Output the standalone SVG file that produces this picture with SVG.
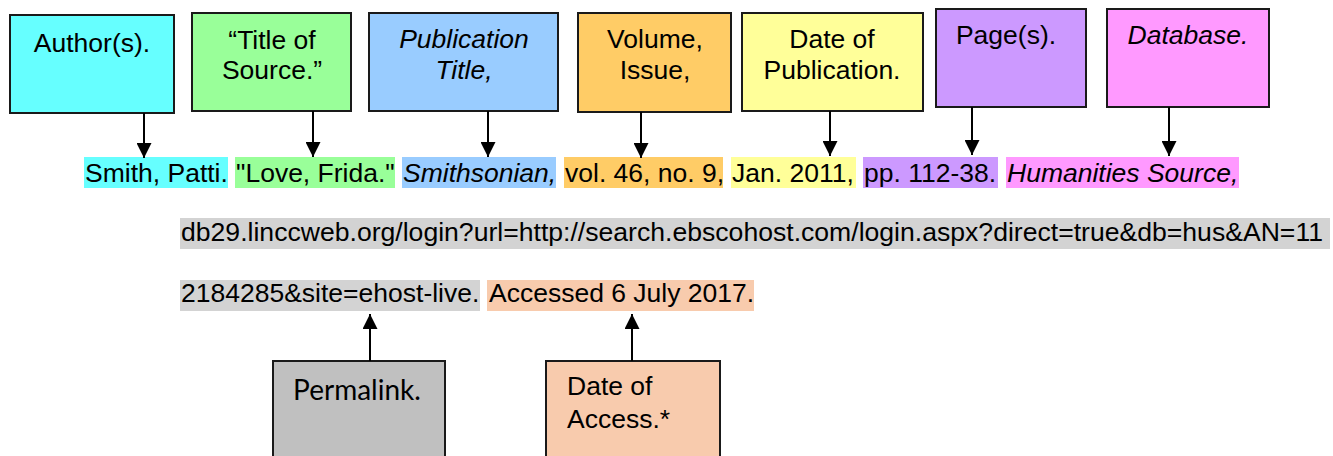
<svg xmlns="http://www.w3.org/2000/svg" width="1333" height="456" viewBox="0 0 1333 456">
<style>
.box{stroke:#1a1a1a;stroke-width:2}
.t{font-family:"Liberation Sans",Arial,sans-serif;font-size:26.5px;fill:#000}
.c{text-anchor:middle}
.i{font-style:italic}
.cal{font-family:Lato,"Open Sans",sans-serif;font-size:28px;fill:#000}
.conn line{stroke:#000;stroke-width:2}
</style>
<defs>
<marker id="ah" markerUnits="userSpaceOnUse" markerWidth="16" markerHeight="15" refX="15" refY="7.5" orient="auto">
<path d="M0,0 L15,7.5 L0,15 Z" fill="#000"/>
</marker>
</defs>
<rect width="1333" height="456" fill="#fff"/>

<g id="citation">
<rect x="84" y="157" width="144" height="31" fill="#66FFFF"/>
<rect x="235" y="157" width="160" height="31" fill="#99FF99"/>
<rect x="402" y="157" width="154" height="31" fill="#99CCFF"/>
<rect x="564" y="157" width="159" height="31" fill="#FFCC66"/>
<rect x="731" y="157" width="125" height="31" fill="#FFFF99"/>
<rect x="863" y="157" width="135" height="31" fill="#CC99FF"/>
<rect x="1006" y="157" width="233" height="31" fill="#FF99FF"/>
<rect x="180" y="218" width="1150" height="31" fill="#D3D3D3"/>
<rect x="180" y="280" width="300" height="31" fill="#D3D3D3"/>
<rect x="487" y="280" width="267" height="31" fill="#F8CBAD"/>
<text class="t" x="85" y="182">Smith, Patti.</text>
<text class="t" x="236" y="182">"Love, Frida."</text>
<text class="t i" x="403" y="182">Smithsonian,</text>
<text class="t" x="565" y="182">vol. 46, no. 9,</text>
<text class="t" x="732" y="182">Jan. 2011,</text>
<text class="t" x="864" y="182">pp. 112-38.</text>
<text class="t i" x="1007" y="182">Humanities Source,</text>
<text class="t" x="181" y="241" textLength="1142" lengthAdjust="spacingAndGlyphs">db29.linccweb.org/login?url=http://search.ebscohost.com/login.aspx?direct=true&amp;db=hus&amp;AN=11</text>
<text class="t" x="181" y="302">2184285&amp;site=ehost-live.</text>
<text class="t" x="489" y="302">Accessed 6 July 2017.</text>
</g>

<g id="author">
<rect class="box" x="10" y="15" width="164" height="98" fill="#66FFFF"/>
<text class="t c" x="92" y="52">Author(s).</text>
</g>
<g id="title">
<rect class="box" x="192" y="13" width="159" height="98" fill="#99FF99"/>
<text class="t c" x="272" y="49">“Title of</text>
<text class="t c" x="272" y="79">Source.”</text>
</g>
<g id="pubtitle">
<rect class="box" x="369" y="13" width="189" height="98" fill="#99CCFF"/>
<text class="t c i" x="464" y="48">Publication</text>
<text class="t c i" x="464" y="79">Title,</text>
</g>
<g id="volume">
<rect class="box" x="578" y="13" width="153" height="99" fill="#FFCC66"/>
<text class="t c" x="655" y="48">Volume,</text>
<text class="t c" x="655" y="79">Issue,</text>
</g>
<g id="date">
<rect class="box" x="742" y="13" width="181" height="98" fill="#FFFF99"/>
<text class="t c" x="832" y="48">Date of</text>
<text class="t c" x="832" y="79">Publication.</text>
</g>
<g id="pages">
<rect class="box" x="936" y="9" width="150" height="98" fill="#CC99FF"/>
<text class="t c" x="1006" y="44">Page(s).</text>
</g>
<g id="database">
<rect class="box" x="1107" y="9" width="162" height="98" fill="#FF99FF"/>
<text class="t c i" x="1188" y="44">Database.</text>
</g>
<g id="permalink">
<rect class="box" x="273" y="361" width="172" height="110" fill="#C0C0C0"/>
<text class="cal c" x="357" y="400">Permalink.</text>
</g>
<g id="access">
<rect class="box" x="546" y="361" width="174" height="110" fill="#F8CBAD"/>
<text class="t" x="567" y="395">Date of</text>
<text class="t" x="567" y="428">Access.*</text>
</g>

<g id="connectors" class="conn">
<line x1="144" y1="113" x2="144" y2="158" marker-end="url(#ah)"/>
<line x1="313" y1="111" x2="313" y2="157" marker-end="url(#ah)"/>
<line x1="488" y1="111" x2="488" y2="157" marker-end="url(#ah)"/>
<line x1="641" y1="112" x2="641" y2="158" marker-end="url(#ah)"/>
<line x1="830" y1="111" x2="830" y2="156" marker-end="url(#ah)"/>
<line x1="972" y1="107" x2="972" y2="155" marker-end="url(#ah)"/>
<line x1="1169" y1="107" x2="1169" y2="156" marker-end="url(#ah)"/>
<line x1="370" y1="361" x2="370" y2="314" marker-end="url(#ah)"/>
<line x1="632" y1="361" x2="632" y2="314" marker-end="url(#ah)"/>
</g>
</svg>
